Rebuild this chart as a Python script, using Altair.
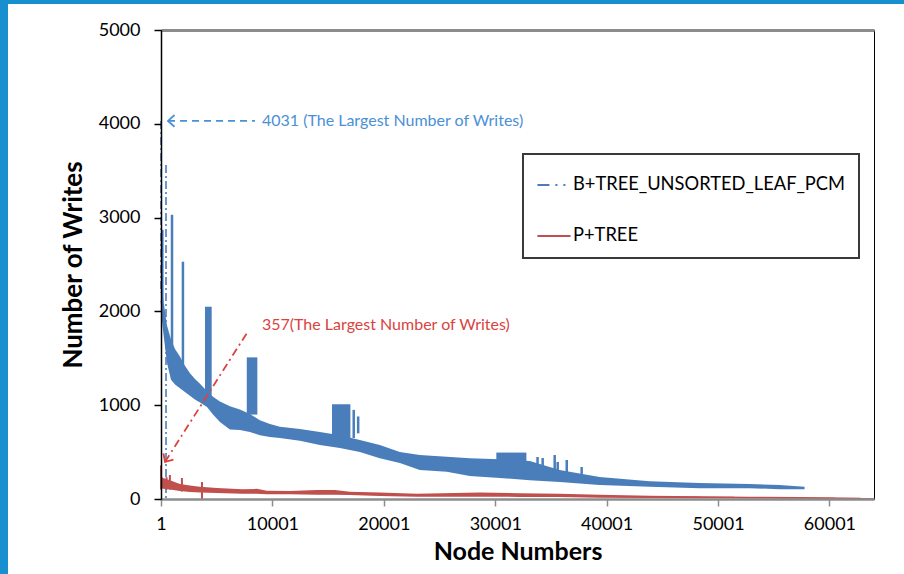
import altair as alt
import pandas as pd

B_NAME = "B+TREE_UNSORTED_LEAF_PCM"
P_NAME = "P+TREE"
BLUE = "#4a7ebb"
RED = "#c0504d"
BLUE_TXT = "#4a90d6"
RED_TXT = "#d9443f"
FRAME = "#1890d0"
FONT = "Lato"

# B+TREE write counts: envelope of the dense per-node series (node, low, high)
b_node = [1, 180, 540, 900, 1260, 1700, 2150, 2600, 3050, 3500, 4130, 4670, 5290,
          6190, 7090, 7980, 8880, 9780, 10670, 12470, 14260, 16060, 17850, 19640,
          21440, 23230, 25650, 27720, 30410, 33100, 35790, 39370, 43860, 48340,
          52830, 55520, 57760]
b_high = [2230, 2150, 1850, 1700, 1600, 1520, 1420, 1340, 1280, 1230, 1150, 1090,
          1040, 990, 955, 905, 840, 800, 770, 745, 715, 680, 630, 575, 500, 470,
          450, 435, 425, 405, 310, 235, 190, 170, 160, 150, 130]
b_low = [2000, 1800, 1450, 1270, 1220, 1180, 1140, 1100, 1060, 1030, 980, 900,
         820, 740, 735, 715, 680, 660, 650, 620, 575, 545, 500, 435, 385, 310, 290,
         245, 225, 200, 180, 150, 130, 115, 115, 105, 105]

# B+TREE isolated peaks (node, from, to)
b_peak_node = [120, 990, 1970, 17300, 17700, 33800, 34260, 35340, 35610, 36420, 37760]
b_peak_lo = [2100, 1600, 1350, 650, 700, 250, 250, 220, 220, 220, 267]
b_peak_hi = [2870, 3030, 2530, 950, 880, 448, 437, 469, 395, 416, 341]

# B+TREE peaks drawn in the series' dash-dot style
b_dash_node = [1, 450]
b_dash_lo = [2200, 0]
b_dash_hi = [4031, 3560]

# B+TREE dense clusters of peaks (node range, value range)
b_blk_x0 = [3950, 7700, 15350, 30100]
b_blk_x1 = [4550, 8650, 17000, 32800]
b_blk_lo = [1100, 900, 640, 250]
b_blk_hi = [2050, 1510, 1010, 495]

# P+TREE write counts: envelope (node, low, high)
p_node = [1, 180, 810, 1700, 2600, 3500, 5020, 7300, 8600, 9500, 11570, 13990,
          15600, 16960, 19640, 22960, 28610, 32200, 35790, 39370, 43860, 48340,
          52830, 57310, 61800, 63140, 63950]
p_high = [245, 224, 200, 160, 145, 130, 117, 105, 108, 88, 85, 95, 95, 78, 68,
          55, 68, 62, 55, 45, 35, 30, 25, 20, 14, 10, 6]
p_low = [120, 110, 100, 85, 75, 70, 64, 55, 55, 50, 50, 45, 45, 43, 32, 25, 25,
         22, 20, 12, 10, 8, 5, 3, 0, 0, 0]

# P+TREE isolated peaks
p_peak_node = [1, 500, 800, 1880, 3680]
p_peak_lo = [100, 100, 100, 80, 0]
p_peak_hi = [357, 232, 256, 224, 181]

# annotations
b_max = 4031
p_max = 357
b_note = f"{b_max} (The Largest Number of Writes)"
p_note = f"{p_max}(The Largest Number of Writes)"

x_ticks = [1, 10001, 20001, 30001, 40001, 50001, 60001]
y_ticks = [0, 1000, 2000, 3000, 4000, 5000]

W, H = 713, 469

xscale = alt.Scale(domain=[1, 64001], nice=False, zero=False)
yscale = alt.Scale(domain=[0, 5000], nice=False)

xaxis = alt.Axis(
    values=x_ticks, format="d", title="Node Numbers",
    labelFont=FONT, labelFontSize=18, labelColor="#000", labelPadding=9,
    labelFlush=False, labelOverlap=False,
    titleFont=FONT, titleFontSize=25, titleFontWeight="bold", titleColor="#000",
    titlePadding=6,
    tickSize=7, tickColor="#8c8c8c", tickWidth=1.5,
    domainColor="#8c8c8c", domainWidth=2.5, grid=False, zindex=1,
)
yaxis = alt.Axis(
    values=y_ticks, format="d", title="Number of Writes",
    labelFont=FONT, labelFontSize=18, labelColor="#000", labelPadding=14,
    titleFont=FONT, titleFontSize=26, titleFontWeight="bold", titleColor="#000",
    titlePadding=12,
    tickSize=7, tickColor="#000", tickWidth=1.5,
    domainColor="#000", domainWidth=1.5,
    grid=True, gridColor="#8c8c8c", gridWidth=3,
    gridOpacity={"condition": {"test": "datum.value === 5000", "value": 1}, "value": 0},
    zindex=1,
)


def X(field):
    return alt.X(field, type="quantitative", scale=xscale, axis=xaxis)


def Y(field):
    return alt.Y(field, type="quantitative", scale=yscale, axis=yaxis)


b_band = pd.DataFrame({"node": b_node, "lo": b_low, "hi": b_high})
p_band = pd.DataFrame({"node": p_node, "lo": p_low, "hi": p_high})
b_peaks = pd.DataFrame({"node": b_peak_node, "lo": b_peak_lo, "hi": b_peak_hi})
b_dash = pd.DataFrame({"node": b_dash_node, "lo": b_dash_lo, "hi": b_dash_hi})
b_blocks = pd.DataFrame({"node": b_blk_x0, "node2": b_blk_x1, "lo": b_blk_lo, "hi": b_blk_hi})
p_peaks = pd.DataFrame({"node": p_peak_node, "lo": p_peak_lo, "hi": p_peak_hi})

# midlines of both series carry the legend (colour + dash style)
mid = pd.concat([
    pd.DataFrame({"node": b_node, "mid": [(a + b) / 2 for a, b in zip(b_low, b_high)], "series": B_NAME}),
    pd.DataFrame({"node": p_node, "mid": [(a + b) / 2 for a, b in zip(p_low, p_high)], "series": P_NAME}),
])

# slide-coloured strips along the left and top edges of the page
frame = pd.DataFrame({"bg": [0]})
frame_left = alt.Chart(frame).mark_rect(color=FRAME).encode(
    x=alt.value(-161), x2=alt.value(-153), y=alt.value(-30), y2=alt.value(544))
frame_top = alt.Chart(frame).mark_rect(color=FRAME).encode(
    x=alt.value(-161), x2=alt.value(743), y=alt.value(-30), y2=alt.value(-26))

b_area = alt.Chart(b_band).mark_area(color=BLUE).encode(x=X("node"), y=Y("hi"), y2="lo")
b_blk = alt.Chart(b_blocks).mark_rect(color=BLUE).encode(x=X("node"), x2="node2", y=Y("hi"), y2="lo")
b_pk = alt.Chart(b_peaks).mark_rule(color=BLUE, strokeWidth=2.5).encode(x=X("node"), y=Y("hi"), y2="lo")
b_dd = alt.Chart(b_dash).mark_rule(color=BLUE, strokeWidth=1.6, strokeDash=[8, 3, 2, 3]).encode(
    x=X("node"), y=Y("hi"), y2="lo")

p_area = alt.Chart(p_band).mark_area(color=RED).encode(x=X("node"), y=Y("hi"), y2="lo")
p_pk = alt.Chart(p_peaks).mark_rule(color=RED, strokeWidth=2).encode(x=X("node"), y=Y("hi"), y2="lo")

legend_lines = alt.Chart(mid).mark_line(strokeWidth=1.2).encode(
    x=X("node"), y=Y("mid"),
    color=alt.Color("series:N", title=None,
                    scale=alt.Scale(domain=[B_NAME, P_NAME], range=[BLUE, RED]),
                    legend=alt.Legend(
                        orient="none", legendX=362, legendY=124,
                        symbolType="stroke", symbolSize=1100, symbolStrokeWidth=2,
                        labelFont=FONT, labelFontSize=18.3, labelColor="#000",
                        labelLimit=0, labelOffset=1, rowPadding=24, padding=13,
                        strokeColor="#3a3a3a", fillColor="white",
                    )),
    strokeDash=alt.StrokeDash("series:N", title=None,
                              scale=alt.Scale(domain=[B_NAME, P_NAME],
                                              range=[[12, 6, 2, 6, 2, 6], [1, 0]])),
)

# annotation: largest B+TREE count
b_arrow = pd.DataFrame({"node": [630, 8430], "v": [b_max, b_max]})
b_tip = pd.DataFrame({"node": [630], "v": [b_max]})
b_text = pd.DataFrame({"node": [9060], "v": [b_max], "t": [b_note]})
b_ann_line = alt.Chart(b_arrow).mark_line(color=BLUE_TXT, strokeWidth=1.8, strokeDash=[7, 5]).encode(
    x=X("node"), y=Y("v"))
b_ann_tip = alt.Chart(b_tip).mark_point(
    shape="M-1,-0.9L0,0L-1,0.9", filled=False, color=BLUE_TXT, strokeWidth=1.8,
    size=170, angle=180, opacity=1).encode(x=X("node"), y=Y("v"))
b_ann_text = alt.Chart(b_text).mark_text(
    align="left", baseline="middle", font=FONT, fontSize=16, color=BLUE_TXT).encode(
    x=X("node"), y=Y("v"), text="t:N")

# annotation: largest P+TREE count
p_arrow = pd.DataFrame({"node": [360, 7714], "v": [395, 1770]})
p_tip = pd.DataFrame({"node": [360], "v": [395]})
p_text = pd.DataFrame({"node": [9060], "v": [1855], "t": [p_note]})
p_ann_line = alt.Chart(p_arrow).mark_line(color=RED_TXT, strokeWidth=1.8, strokeDash=[8, 4, 2, 4]).encode(
    x=X("node"), y=Y("v"))
p_ann_tip = alt.Chart(p_tip).mark_point(
    shape="M-1,-0.9L0,0L-1,0.9", filled=False, color=RED_TXT, strokeWidth=1.8,
    size=170, angle=122, opacity=1).encode(x=X("node"), y=Y("v"))
p_ann_text = alt.Chart(p_text).mark_text(
    align="left", baseline="middle", font=FONT, fontSize=16, color=RED_TXT).encode(
    x=X("node"), y=Y("v"), text="t:N")

chart = alt.layer(
    frame_left, frame_top, b_area, b_blk, b_pk, b_dd, p_area, p_pk, legend_lines,
    b_ann_line, b_ann_tip, b_ann_text, p_ann_line, p_ann_tip, p_ann_text,
).properties(
    width=W, height=H,
    padding=0,
    background="white",
).configure_view(
    stroke="#000", strokeWidth=1,
).configure_legend(
    strokeWidth=2,
)

chart.save("out.html", embed_options={"renderer": "svg", "actions": False})
